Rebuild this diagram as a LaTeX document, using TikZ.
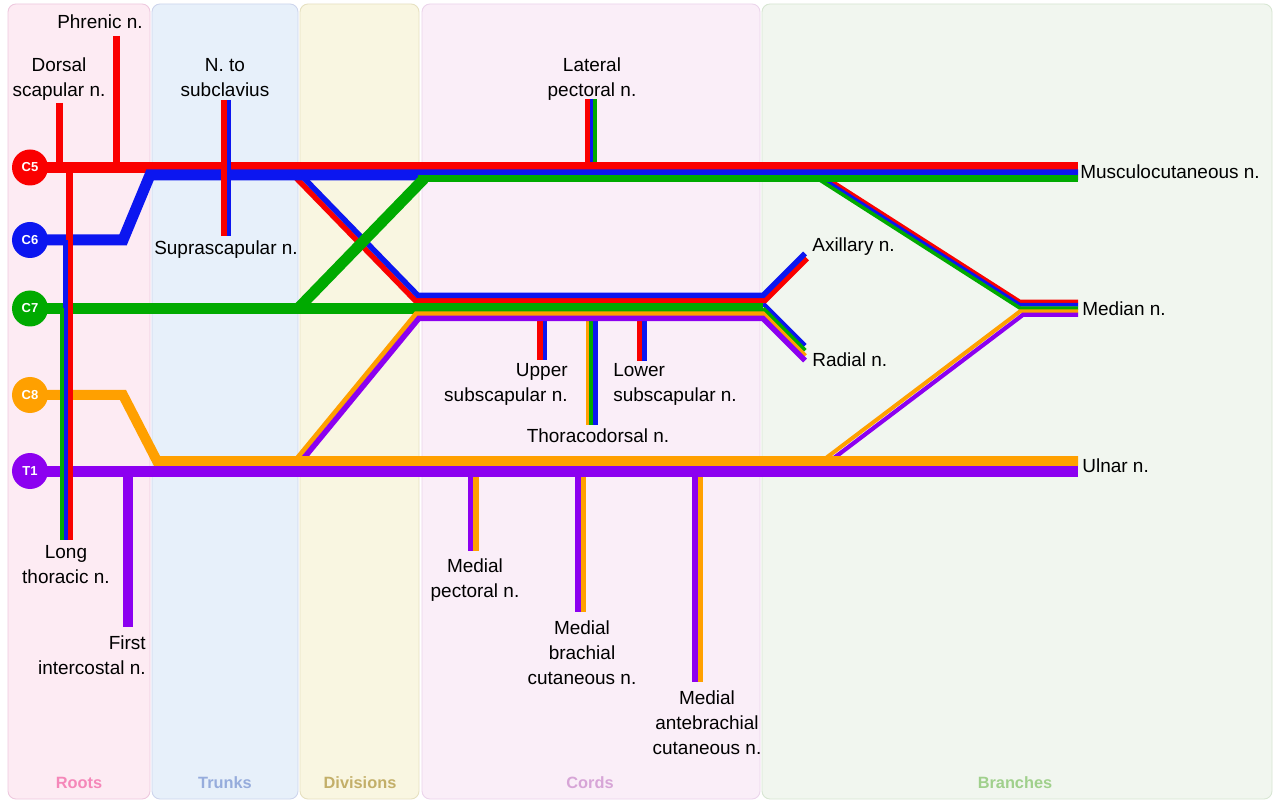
\documentclass[tikz,border=0pt]{standalone}
\usepackage{fontspec}
\setmainfont{Liberation Sans}
\usepackage{xcolor}
\usepackage{tikz}
\definecolor{nred}{RGB}{250,0,0}
\definecolor{nblue}{RGB}{12,22,240}
\definecolor{ngreen}{RGB}{0,170,0}
\definecolor{norange}{RGB}{255,160,0}
\definecolor{npurple}{RGB}{140,0,240}
\definecolor{rootbg}{RGB}{253,235,243}
\definecolor{rootln}{RGB}{238,200,222}
\definecolor{roottx}{RGB}{245,135,185}
\definecolor{trunkbg}{RGB}{231,240,250}
\definecolor{trunkln}{RGB}{205,212,236}
\definecolor{trunktx}{RGB}{150,172,220}
\definecolor{divbg}{RGB}{249,246,225}
\definecolor{divln}{RGB}{230,224,192}
\definecolor{divtx}{RGB}{195,175,105}
\definecolor{cordbg}{RGB}{250,238,248}
\definecolor{cordln}{RGB}{235,212,235}
\definecolor{cordtx}{RGB}{215,165,215}
\definecolor{branchbg}{RGB}{241,246,239}
\definecolor{branchln}{RGB}{215,230,210}
\definecolor{branchtx}{RGB}{160,208,140}

\begin{document}
\begin{tikzpicture}[
  x=0.2mm,y=-0.2mm,
  font=\fontsize{10.8}{14.2}\selectfont,
  wire/.style={line width=#1*0.2mm},
  lane/.style={transform canvas={yshift=-(#1)*0.2mm}},
  hlane/.style={transform canvas={xshift=(#1)*0.2mm}},
  panel/.style={rounded corners=1.6mm,line width=0.5pt},
  tag/.style={font=\fontsize{9.3}{11}\selectfont\bfseries},
  lbl/.style={align=center,inner sep=0pt},
  root/.style={circle,fill=#1,minimum size=7.2mm,inner sep=0pt,text=white,font=\fontsize{7.4}{8}\selectfont\bfseries}
]
\useasboundingbox (0,0) rectangle (1276,801);
\fill[white] (0,0) rectangle (1276,801);

% columns
\draw[panel,fill=rootbg,draw=rootln] (8,4) rectangle (150,799);
\draw[panel,fill=trunkbg,draw=trunkln] (152,4) rectangle (298,799);
\draw[panel,fill=divbg,draw=divln] (300,4) rectangle (419,799);
\draw[panel,fill=cordbg,draw=cordln] (422,4) rectangle (760,799);
\draw[panel,fill=branchbg,draw=branchln] (762,4) rectangle (1272,799);
\node[tag,text=roottx] (troots) at (79,783) {Roots};
\node[tag,text=trunktx] (ttrunks) at (225,783) {Trunks};
\node[tag,text=divtx] (tdivs) at (360,783) {Divisions};
\node[tag,text=cordtx] (tcords) at (590,783) {Cords};
\node[tag,text=branchtx] (tbranches) at (1015,783) {Branches};

% roots, ends and bends
\coordinate (r5) at (30,167.5);
\coordinate (r6) at (30,240);
\coordinate (r7) at (30,308.5);
\coordinate (r8) at (30,395);
\coordinate (r1) at (30,471);
\coordinate (mcu) at (1078,167.5);
\coordinate (uln) at (1078,471);
\coordinate (c6a) at (123,240);
\coordinate (c6b) at (150,175);
\coordinate (c8a) at (123,395);
\coordinate (c8b) at (157,461);
\coordinate (pdiv) at (298,172);
\coordinate (pcord) at (418,295.5);
\coordinate (pend) at (763,295.5);
\coordinate (axl) at (805,253.5);
\coordinate (pdivr) at (295.2,177);
\coordinate (pcordr) at (415.2,300.5);
\coordinate (pendr) at (765,300.5);
\coordinate (axlr) at (807,258.5);
\coordinate (adiv) at (298,308.5);
\coordinate (lcord) at (424,178.75);
\coordinate (rad) at (763,308.5);
\coordinate (radg) at (805,350.5);
\coordinate (mdiv) at (295,461);
\coordinate (mcord) at (416,314);
\coordinate (rado) at (805,356);
\coordinate (mdivp) at (297.75,465.5);
\coordinate (mcordp) at (418.75,318.5);
\coordinate (radp) at (805,360.5);
\coordinate (latr) at (816,171);
\coordinate (medl) at (1020,301.5);
\coordinate (med) at (1078,301.5);
\coordinate (medr) at (826,458);
\coordinate (medm) at (1020,311.4);
\coordinate (medrp) at (829.1,461.7);
\coordinate (medmp) at (1023.1,314.7);

% median n.
\draw[wire=3.6,nred] (latr) -- (medl) -- (med);
\draw[wire=3.6,nblue,lane=3.3] (latr) -- (medl) -- (med);
\draw[wire=3.6,ngreen,lane=6.6] (latr) -- (medl) -- (med);
\draw[wire=4,norange] (medr) -- (medm) -- (medm -| med);
\draw[wire=4.2,npurple] (medrp) -- (medmp) -- (medmp -| med);

% small branches
\coordinate (dsn) at (59,103);
\coordinate (phn) at (116,36);
\coordinate (lpn) at (587.5,99);
\coordinate (usn) at (539.8,360);
\coordinate (tdn) at (587.4,425);
\coordinate (lsn) at (639.2,361);
\coordinate (mpn) at (470.5,551);
\coordinate (mbc) at (577.9,612);
\coordinate (mac) at (694.9,682);
\draw[wire=7,nred] (dsn) -- (dsn |- r5);
\draw[wire=7,nred] (phn) -- (phn |- r5);
\draw[wire=5,nred] (lpn) -- (lpn |- r5);
\draw[wire=3.4,nblue,hlane=4] (lpn) -- (lpn |- r5);
\draw[wire=4,ngreen,hlane=7.5] (lpn) -- (lpn |- r5);
\draw[wire=5.8,nred] (usn |- mcord) -- (usn);
\draw[wire=4.6,nblue,hlane=5.2] (usn |- mcord) -- (usn);
\draw[wire=3.4,norange] (tdn |- mcord) -- (tdn);
\draw[wire=4.3,ngreen,hlane=3.8] (tdn |- mcord) -- (tdn);
\draw[wire=5,nblue,hlane=8.4] (tdn |- mcord) -- (tdn);
\draw[wire=5,nred] (lsn |- mcord) -- (lsn);
\draw[wire=5.6,nblue,hlane=5.3] (lsn |- mcord) -- (lsn);
\draw[wire=5.6,npurple] (mpn |- r1) -- (mpn);
\draw[wire=5.6,norange,hlane=5.7] (mpn |- r1) -- (mpn);
\draw[wire=5.7,npurple] (mbc |- r1) -- (mbc);
\draw[wire=5,norange,hlane=5.3] (mbc |- r1) -- (mbc);
\draw[wire=5.7,npurple] (mac |- r1) -- (mac);
\draw[wire=5.6,norange,hlane=5.6] (mac |- r1) -- (mac);

% posterior cord, axillary and radial
\draw[wire=4.5,nblue,lane=-5] (rad) -- (radg);
\draw[wire=5.5,nred] (pdivr) -- (pcordr) -- (pendr) -- (axlr);
\draw[wire=5.5,nblue] (pdiv) -- (pcord) -- (pend) -- (axl);

% trunks
\draw[wire=11,nred] (r5) -- (mcu);
\draw[wire=11,nblue] (r6) -- (c6a) -- (c6b) -- (c6b -| mcu);
\draw[wire=11,ngreen] (r7) -- (rad);
\draw[wire=4.5,ngreen] (rad) -- (radg);
\draw[wire=5,norange] (mdiv) -- (mcord) -- (mcord -| rad) -- (rado);
\draw[wire=5.5,npurple] (mdivp) -- (mcordp) -- (mcordp -| rad) -- (radp);
\draw[wire=10,norange] (r8) -- (c8a) -- (c8b) -- (c8b -| uln);
\draw[wire=11,npurple] (r1) -- (uln);

% lateral cord
\draw[wire=11,ngreen] (adiv) -- (lcord);
\draw[wire=7.5,ngreen] ([xshift=-1.2mm]lcord) -- (lcord -| mcu);

% branches from the roots
\coordinate (lth) at (69.5,540);
\coordinate (fic) at (128,627);
\coordinate (nts) at (223.5,100);
\coordinate (ssc) at (223.5,236);
\draw[wire=7,nred] (lth |- r5) -- (lth);
\draw[wire=4.6,nblue,hlane=-4] (lth |- r6) -- (lth);
\draw[wire=3.4,ngreen,hlane=-7.7] (lth |- r7) -- (lth);
\draw[wire=10,npurple] (fic |- r1) -- (fic);
\draw[wire=6,nred] (nts) -- (ssc);
\draw[wire=4.6,nblue,hlane=5.3] (nts) -- (ssc);

\node[root=nred] (c5) at (r5) {C5};
\node[root=nblue] (c6) at (r6) {C6};
\node[root=ngreen] (c7) at (r7) {C7};
\node[root=norange] (c8) at (r8) {C8};
\node[root=npurple] (t1) at (r1) {T1};

\node[lbl] (phrenic) at (100,22) {Phrenic n.};
\node[lbl] (dorsal) at (59,79.4) {Dorsal\\scapular n.};
\node[lbl] (subcl) at (225,77.5) {N. to\\subclavius};
\node[lbl] (suprasc) at (226,250) {Suprascapular n.};
\node[lbl] (latpec) at (592,79) {Lateral\\pectoral n.};
\node[lbl,anchor=west] (musc) at (1080,172) {Musculocutaneous n.};
\node[lbl,anchor=west] (axill) at (812,247) {Axillary n.};
\node[lbl,anchor=west] (median) at (1082,309) {Median n.};
\node[lbl,anchor=west] (radial) at (812,360) {Radial n.};
\node[lbl,align=right,anchor=east] (upsub) at (568,384.4) {Upper\\subscapular n.};
\node[lbl,align=left,anchor=west] (lowsub) at (613,384.4) {Lower\\subscapular n.};
\node[lbl] (thdors) at (598,436) {Thoracodorsal n.};
\node[lbl,anchor=west] (ulnar) at (1082,466) {Ulnar n.};
\node[lbl] (longth) at (66,564.5) {Long\\thoracic n.};
\node[lbl,align=right,anchor=east] (firstic) at (146,655.5) {First\\intercostal n.};
\node[lbl] (medpec) at (475,580.5) {Medial\\pectoral n.};
\node[lbl] (medbr) at (582,653) {Medial\\brachial\\cutaneous n.};
\node[lbl] (medab) at (707,723) {Medial\\antebrachial\\cutaneous n.};
\end{tikzpicture}
\end{document}
